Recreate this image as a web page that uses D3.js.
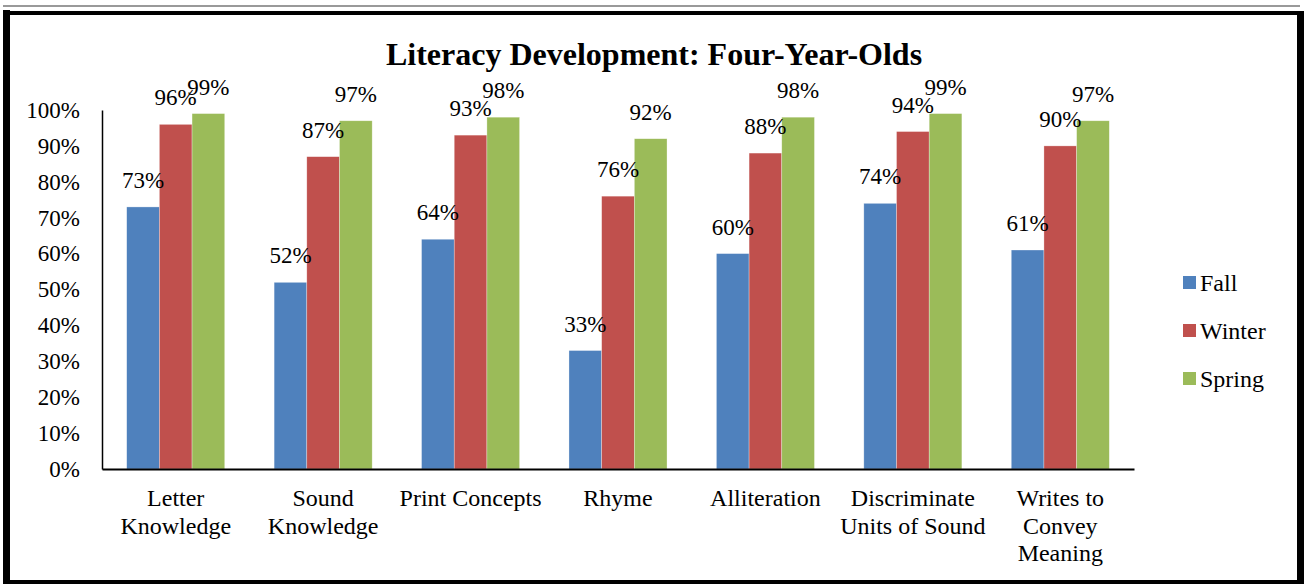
<!DOCTYPE html>
<html lang="en">
  <head>
    <meta charset="utf-8">
    <title>Literacy Development: Four-Year-Olds</title>
    <script src="https://d3js.org/d3.v7.min.js"></script>
    <style>
      html, body { margin: 0; padding: 0; background: #fff; }
      svg { display: block; }
      svg text { font-family: "Liberation Serif", "Times New Roman", serif; fill: #000; }
    </style>
  </head>
  <body>
    <svg id="chart" width="1304" height="584"></svg>
    <script>
      // chart data
      const categories = ['Letter\nKnowledge', 'Sound\nKnowledge', 'Print Concepts', 'Rhyme',
        'Alliteration', 'Discriminate\nUnits of Sound', 'Writes to\nConvey\nMeaning'];
      const seasons = ['Fall', 'Winter', 'Spring'];
      const fall = [73, 52, 64, 33, 60, 74, 61];
      const winter = [96, 87, 93, 76, 88, 94, 90];
      const spring = [99, 97, 98, 92, 98, 99, 97];
      const yTicks = [0, 10, 20, 30, 40, 50, 60, 70, 80, 90, 100];

      const series = [fall, winter, spring];
      const colors = ['#4F81BD', '#C0504D', '#9BBB59'];

      const width = 1304, height = 584;
      const margin = {left: 102, right: 170, top: 110, bottom: 115};
      const serif = '"Liberation Serif", "Times New Roman", serif';

      const svg = d3.select('#chart');

      // frame
      svg.append('line').attr('x1', 3).attr('x2', 1300).attr('y1', 6).attr('y2', 6)
        .attr('stroke', '#999').attr('stroke-width', 2);
      svg.append('rect').attr('x', 3).attr('y', 10).attr('width', 7).attr('height', 574).attr('fill', '#000');
      svg.append('rect').attr('x', 3).attr('y', 11).attr('width', 1301).attr('height', 4).attr('fill', '#000');
      svg.append('rect').attr('x', 1297).attr('y', 11).attr('width', 7).attr('height', 573).attr('fill', '#000');
      svg.append('rect').attr('x', 3).attr('y', 580).attr('width', 1301).attr('height', 4).attr('fill', '#000');

      const x0 = d3.scaleBand()
        .domain(d3.range(categories.length))
        .range([margin.left, width - margin.right])
        .paddingInner(0.335)
        .paddingOuter(0.1675);

      const x1 = d3.scaleBand()
        .domain(d3.range(seasons.length))
        .range([0, x0.bandwidth()]);

      const y = d3.scaleLinear()
        .domain([0, 100])
        .range([height - margin.bottom, margin.top]);

      // title
      svg.append('text')
        .attr('x', 654).attr('y', 65)
        .attr('text-anchor', 'middle')
        .style('font-family', serif)
        .style('font-weight', 'bold')
        .style('font-size', '32px')
        .text('Literacy Development: Four-Year-Olds');

      // bars
      const groups = svg.append('g').selectAll('g')
        .data(categories)
        .enter().append('g')
          .attr('transform', (d, i) => 'translate(' + x0(i) + ',0)');

      groups.selectAll('rect')
        .data((d, i) => series.map((s, j) => ({s: j, v: s[i]})))
        .enter().append('rect')
          .attr('x', d => x1(d.s))
          .attr('y', d => y(d.v))
          .attr('width', x1.bandwidth())
          .attr('height', d => y(0) - y(d.v))
          .attr('fill', d => colors[d.s])
          .attr('stroke', '#fff')
          .attr('stroke-opacity', 0.5)
          .attr('stroke-width', 0.6);

      groups.selectAll('text.value')
        .data((d, i) => series.map((s, j) => ({s: j, v: s[i]})))
        .enter().append('text')
          .attr('class', 'value')
          .attr('x', d => x1(d.s) + x1.bandwidth() / 2)
          .attr('y', d => y(d.v) - 19)
          .attr('text-anchor', 'middle')
          .style('font-family', serif)
          .style('font-size', '23px')
          .text(d => d.v + '%');

      // y axis
      const yAxis = svg.append('g')
        .attr('transform', 'translate(' + margin.left + ',0)')
        .call(d3.axisLeft(y).tickValues(yTicks).tickSize(0).tickPadding(22).tickFormat(d => d + '%'));
      yAxis.attr('font-family', null);
      yAxis.select('.domain').attr('stroke', '#000').attr('stroke-width', 1.5);
      yAxis.selectAll('text')
        .style('font-family', serif)
        .style('font-size', '23px')
        .attr('fill', '#000');

      // x axis
      const xAxis = svg.append('g')
        .attr('transform', 'translate(0,' + y(0) + ')')
        .call(d3.axisBottom(x0).tickSize(0).tickFormat(''));
      xAxis.select('.domain').attr('stroke', '#000').attr('stroke-width', 2);

      const xLabels = svg.append('g').selectAll('text')
        .data(categories)
        .enter().append('text')
          .attr('x', (d, i) => x0(i) + x0.bandwidth() / 2)
          .attr('y', y(0) + 37)
          .attr('text-anchor', 'middle')
          .style('font-family', serif)
          .style('font-size', '24px');
      xLabels.selectAll('tspan')
        .data(d => d.split('\n'))
        .enter().append('tspan')
          .attr('x', function() { return this.parentNode.getAttribute('x'); })
          .attr('dy', (d, i) => i === 0 ? 0 : 27.5)
          .text(d => d);

      // legend
      const legend = svg.append('g').selectAll('g')
        .data(seasons)
        .enter().append('g')
          .attr('transform', (d, i) => 'translate(1183,' + (276 + i * 48) + ')');
      legend.append('rect')
        .attr('width', 13).attr('height', 13)
        .attr('fill', (d, i) => colors[i]);
      legend.append('text')
        .attr('x', 17).attr('y', 15)
        .style('font-family', serif)
        .style('font-size', '24px')
        .text(d => d);
    </script>
  </body>
</html>
